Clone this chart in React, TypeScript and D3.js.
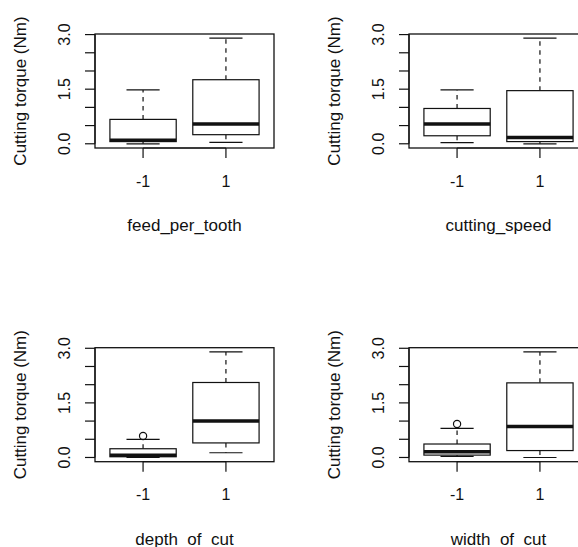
import React from 'react';
import * as d3 from 'd3';

// factor names shown under each panel, and the two levels of every factor
const factorNames = ['feed_per_tooth', 'cutting_speed', 'depth_of_cut', 'width_of_cut'];
const levels = ['-1', '1'];

// boxplot stats per level: [lower whisker, Q1, median, Q3, upper whisker]
const feedPerToothStats = [[0.0, 0.06, 0.1, 0.67, 1.48], [0.04, 0.25, 0.54, 1.76, 2.9]];
const cuttingSpeedStats = [[0.03, 0.22, 0.54, 0.97, 1.48], [0.0, 0.06, 0.17, 1.46, 2.9]];
const depthOfCutStats = [[0.0, 0.02, 0.06, 0.24, 0.5], [0.13, 0.4, 1.0, 2.06, 2.9]];
const widthOfCutStats = [[0.03, 0.065, 0.16, 0.37, 0.8], [0.0, 0.19, 0.85, 2.05, 2.9]];

// outliers per level
const feedPerToothOut = [[], []];
const cuttingSpeedOut = [[], []];
const depthOfCutOut = [[0.59], []];
const widthOfCutOut = [[0.92], []];

const yTicks = [0, 0.5, 1, 1.5, 2, 2.5, 3];
const yTickLabels = [0, 1.5, 3];
const yTitle = 'Cutting torque (Nm)';

const allStats = [feedPerToothStats, cuttingSpeedStats, depthOfCutStats, widthOfCutStats];
const allOut = [feedPerToothOut, cuttingSpeedOut, depthOfCutOut, widthOfCutOut];

// layout (R par(mfrow = c(2, 2)) look)
const panelW = 314;
const panelH = 313.7;
const plot = { left: 95, right: 274, top: 34, bottom: 148 };
const ink = '#111';
const tickSize = 16;
const titleSize = 17;

const Panel = ({ stats, outliers, name, dx, dy }) => {
  // R extends axis limits by 4% on each side
  const vals = stats.flat().concat(outliers.flat());
  const [lo, hi] = d3.extent(vals);
  const pad = (hi - lo) * 0.04;
  const y = d3.scaleLinear().domain([lo - pad, hi + pad]).range([plot.bottom, plot.top]);
  const x = d3.scaleLinear().domain([0.5 - 0.08, 2.5 + 0.08]).range([plot.left, plot.right]);
  const boxHalf = (x(1.4) - x(0.6)) / 2;
  const fmt = d3.format('.1f');

  return (
    <g transform={`translate(${dx},${dy})`} stroke={ink} fill="none">
      {stats.map((s, i) => {
        const cx = x(i + 1);
        const [wLo, q1, med, q3, wHi] = s;
        return (
          <g key={i} strokeWidth={1.2}>
            <line x1={cx} x2={cx} y1={y(q3)} y2={y(wHi)} strokeDasharray="4.5,4.5" />
            <line x1={cx} x2={cx} y1={y(q1)} y2={y(wLo)} strokeDasharray="4.5,4.5" />
            <line x1={cx - boxHalf / 2} x2={cx + boxHalf / 2} y1={y(wHi)} y2={y(wHi)} />
            <line x1={cx - boxHalf / 2} x2={cx + boxHalf / 2} y1={y(wLo)} y2={y(wLo)} />
            <rect x={cx - boxHalf} y={y(q3)} width={boxHalf * 2} height={y(q1) - y(q3)} fill="#fff" />
            <line x1={cx - boxHalf} x2={cx + boxHalf} y1={y(med)} y2={y(med)} strokeWidth={3.5} />
            {outliers[i].map((o, j) => (
              <circle key={j} cx={cx} cy={y(o)} r={3.6} />
            ))}
          </g>
        );
      })}

      {/* frame */}
      <rect x={plot.left} y={plot.top} width={plot.right - plot.left} height={plot.bottom - plot.top} strokeWidth={1.3} />

      {/* y axis */}
      <line x1={plot.left} x2={plot.left} y1={y(yTicks[0])} y2={y(yTicks[yTicks.length - 1])} strokeWidth={1.2} />
      {yTicks.map(t => (
        <line key={t} x1={plot.left - 10} x2={plot.left} y1={y(t)} y2={y(t)} strokeWidth={1.2} />
      ))}
      {yTickLabels.map(t => (
        <text key={t} transform={`translate(70,${y(t)}) rotate(-90)`} textAnchor="middle"
          stroke="none" fill={ink} fontSize={tickSize}>{fmt(t)}</text>
      ))}
      <text transform={`translate(26,${(plot.top + plot.bottom) / 2}) rotate(-90)`} textAnchor="middle"
        stroke="none" fill={ink} fontSize={titleSize}>{yTitle}</text>

      {/* x axis */}
      <line x1={x(1)} x2={x(2)} y1={plot.bottom} y2={plot.bottom} strokeWidth={1.2} />
      {levels.map((l, i) => (
        <g key={l}>
          <line x1={x(i + 1)} x2={x(i + 1)} y1={plot.bottom} y2={plot.bottom + 10} strokeWidth={1.2} />
          <text x={x(i + 1)} y={186.5} textAnchor="middle" stroke="none" fill={ink} fontSize={tickSize}>{l}</text>
        </g>
      ))}
      <text x={(plot.left + plot.right) / 2} y={231} textAnchor="middle" stroke="none" fill={ink}
        fontSize={titleSize}>{name}</text>
    </g>
  );
};

export default function App() {
  return (
    <svg width={578} height={547} style={{ position: 'absolute', left: 0, top: 0, background: '#fff' }}
      fontFamily="'Liberation Sans', Arial, sans-serif">
      {factorNames.map((name, i) => (
        <Panel key={name} name={name} stats={allStats[i]} outliers={allOut[i]}
          dx={(i % 2) * panelW} dy={Math.floor(i / 2) * panelH} />
      ))}
    </svg>
  );
}
